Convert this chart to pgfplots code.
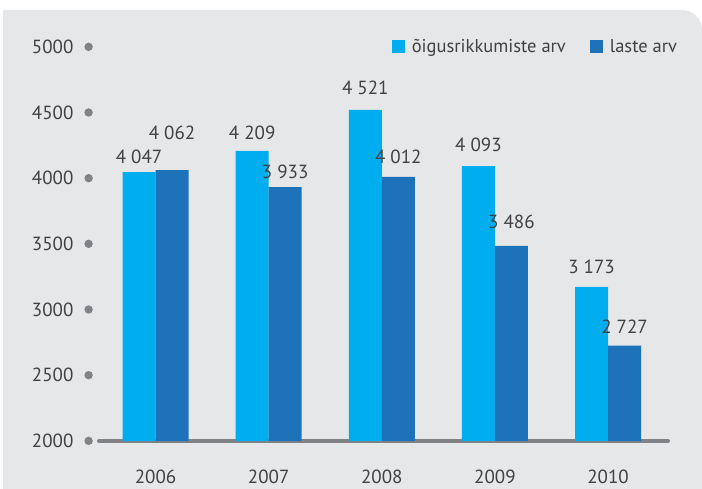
\documentclass[border=0pt]{standalone}
\usepackage{pgfplots}
\pgfplotsset{compat=1.18}
\usepackage{fontspec}
\setmainfont{PT Sans}
\definecolor{bg}{RGB}{230,231,233}
\definecolor{lightb}{RGB}{0,174,239}
\definecolor{darkb}{RGB}{30,114,186}
\definecolor{axgray}{RGB}{128,130,133}
\definecolor{txt}{RGB}{65,64,66}

\pgfplotstableread{
x y off
0 4047 15
1 4209 18
2 4521 22
3 4093 21
4 3173 20
}\lighttab
\pgfplotstableread{
x y off
0 4062 37
1 3933 15
2 4012 20
3 3486 24
4 2727 19
}\darktab

\begin{document}
\begin{tikzpicture}
\fill[bg] (3bp,0) -- (3bp,479bp) -- (682bp,479bp) arc[start angle=90,end angle=0,radius=20bp] -- (702bp,0) -- cycle;
\begin{axis}[
  at={(99bp,48bp)}, anchor=south west,
  scale only axis, width=569bp, height=394bp,
  xmin=-0.5, xmax=4.53, ymin=2000, ymax=5000,
  ybar=0pt, bar width=33bp,
  axis lines*=left,
  y axis line style={draw=none},
  x axis line style={line width=4bp, color=axgray, line cap=round},
  major tick length=0pt,
  xtick=data, xticklabels={2006,2007,2008,2009,2010},
  ytick={2000,2500,3000,3500,4000,4500,5000},
  /pgf/number format/1000 sep={},
  /pgf/number format/assume math mode=true,
  font=\fontsize{19bp}{22bp}\selectfont\color{txt},
  yticklabel={\pgfmathprintnumber{\tick}\hspace{11bp}\tikz[baseline={(0,-6.8bp)}]\fill[axgray] (0,0) circle (4.2bp);},
  yticklabel style={anchor=east, inner sep=0pt, xshift=-6bp},
  xticklabel style={anchor=base, inner sep=0pt, yshift=-42bp},
  nodes near coords={\pgfmathprintnumber[1000 sep={\hspace{5bp}}, assume math mode=true]{\pgfplotspointmeta}},
  visualization depends on={\thisrow{off}\as\myoff},
  every node near coord/.append style={anchor=center, yshift=\myoff bp, font=\fontsize{19bp}{22bp}\selectfont, text=txt, inner sep=0pt},
  clip=false,
  legend columns=2,
  legend image code/.code={\fill[#1] (0bp,-6.5bp) rectangle (13bp,6.5bp);},
  legend style={at={(1.0215,1.0)}, anchor=east, draw=none, fill=none,
    font=\fontsize{18.5bp}{22bp}\selectfont, text=txt,
    nodes={inner sep=0pt},
    /tikz/every odd column/.append style={column sep=7bp},
    /tikz/every even column/.append style={column sep=24bp}},
]
\addplot[fill=lightb, draw=none] table[x=x,y=y] {\lighttab};
\addplot[fill=darkb, draw=none] table[x=x,y=y] {\darktab};
\legend{õigusrikkumiste arv, laste arv}
\end{axis}
\pgfresetboundingbox
\useasboundingbox (0,0) rectangle (702bp,489bp);
\end{tikzpicture}
\end{document}
